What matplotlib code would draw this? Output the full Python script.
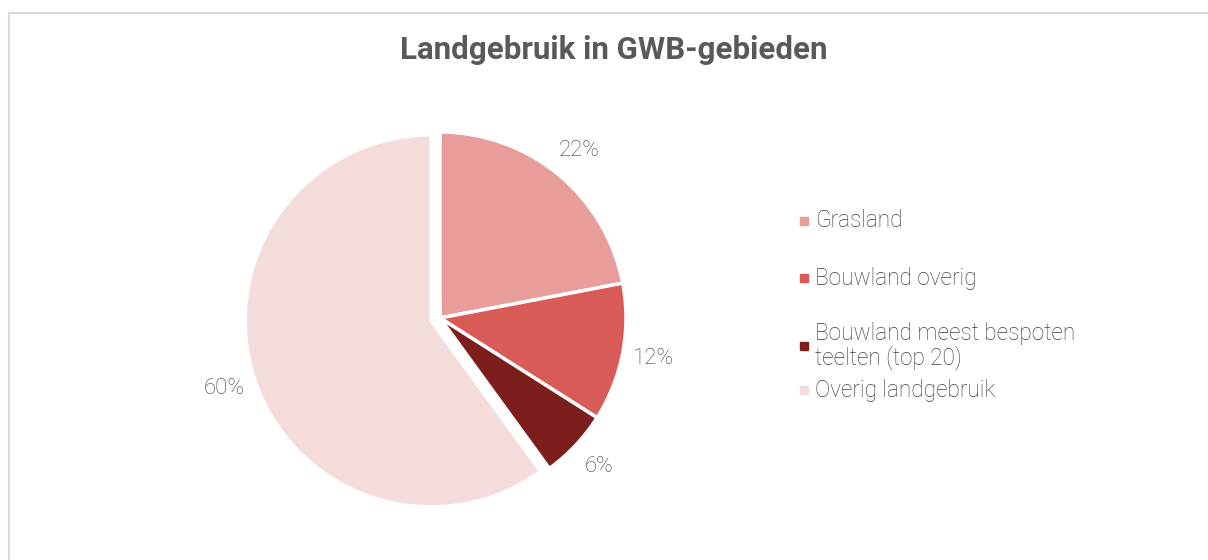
import matplotlib.pyplot as plt
from matplotlib.lines import Line2D
from matplotlib.patches import Rectangle

# data
categories = ['Grasland', 'Bouwland overig',
              'Bouwland meest bespoten\nteelten (top 20)', 'Overig landgebruik']
shares = [22, 12, 6, 60]
colors = ['#e89d9b', '#d95b58', '#7b1e1c', '#f5dcdc']
explode = [0, 0, 0, 0.05]

TEXT = '#595959'
LIGHT_TEXT = '#404040'
FONT = 'Roboto'

W, H = 1208, 560
fig = plt.figure(figsize=(W / 100, H / 100), dpi=100)

# pie axes: centre (440, 318) px, radius 186 px
cx, cy, r, half = 440, 318, 186, 240
ax = fig.add_axes([(cx - half) / W, (H - cy - half) / H, 2 * half / W, 2 * half / H])
wedges, texts, autotexts = ax.pie(
    shares, colors=colors, startangle=90, counterclock=False,
    explode=explode, autopct='%1.0f%%', pctdistance=1.17,
    wedgeprops=dict(edgecolor='white', linewidth=2.5),
    textprops=dict(color=LIGHT_TEXT, fontsize=16, family=FONT, fontweight='light'))
ax.set_xlim(-half / r, half / r)
ax.set_ylim(-half / r, half / r)
ax.set_aspect('equal')
ax.axis('off')

# title
fig.text(614 / W, 1 - 50 / H, 'Landgebruik in GWB-gebieden', ha='center', va='center',
         fontsize=22.5, fontweight='bold', family=FONT, color=TEXT)

# legend (drawn by hand to keep the uneven spacing)
legend_y = [221, 278, 346, 390]
for label, col, y in zip(categories, colors, legend_y):
    fig.add_artist(Rectangle((800 / W, 1 - (y + 4) / H), 8 / W, 8 / H,
                             transform=fig.transFigure, color=col))
    fig.text(815 / W, 1 - y / H, label, ha='left', va='center', fontsize=16.3,
             family=FONT, fontweight='light', color=LIGHT_TEXT, linespacing=1.0)

# outer frame
fig.add_artist(Line2D([8.5 / W, 1], [1 - 13 / H, 1 - 13 / H], transform=fig.transFigure,
                      color='#d9d9d9', lw=1.5))
fig.add_artist(Line2D([8.5 / W, 8.5 / W], [0, 1 - 13 / H], transform=fig.transFigure,
                      color='#d9d9d9', lw=1.5))

fig.savefig('out.png', dpi=100)
